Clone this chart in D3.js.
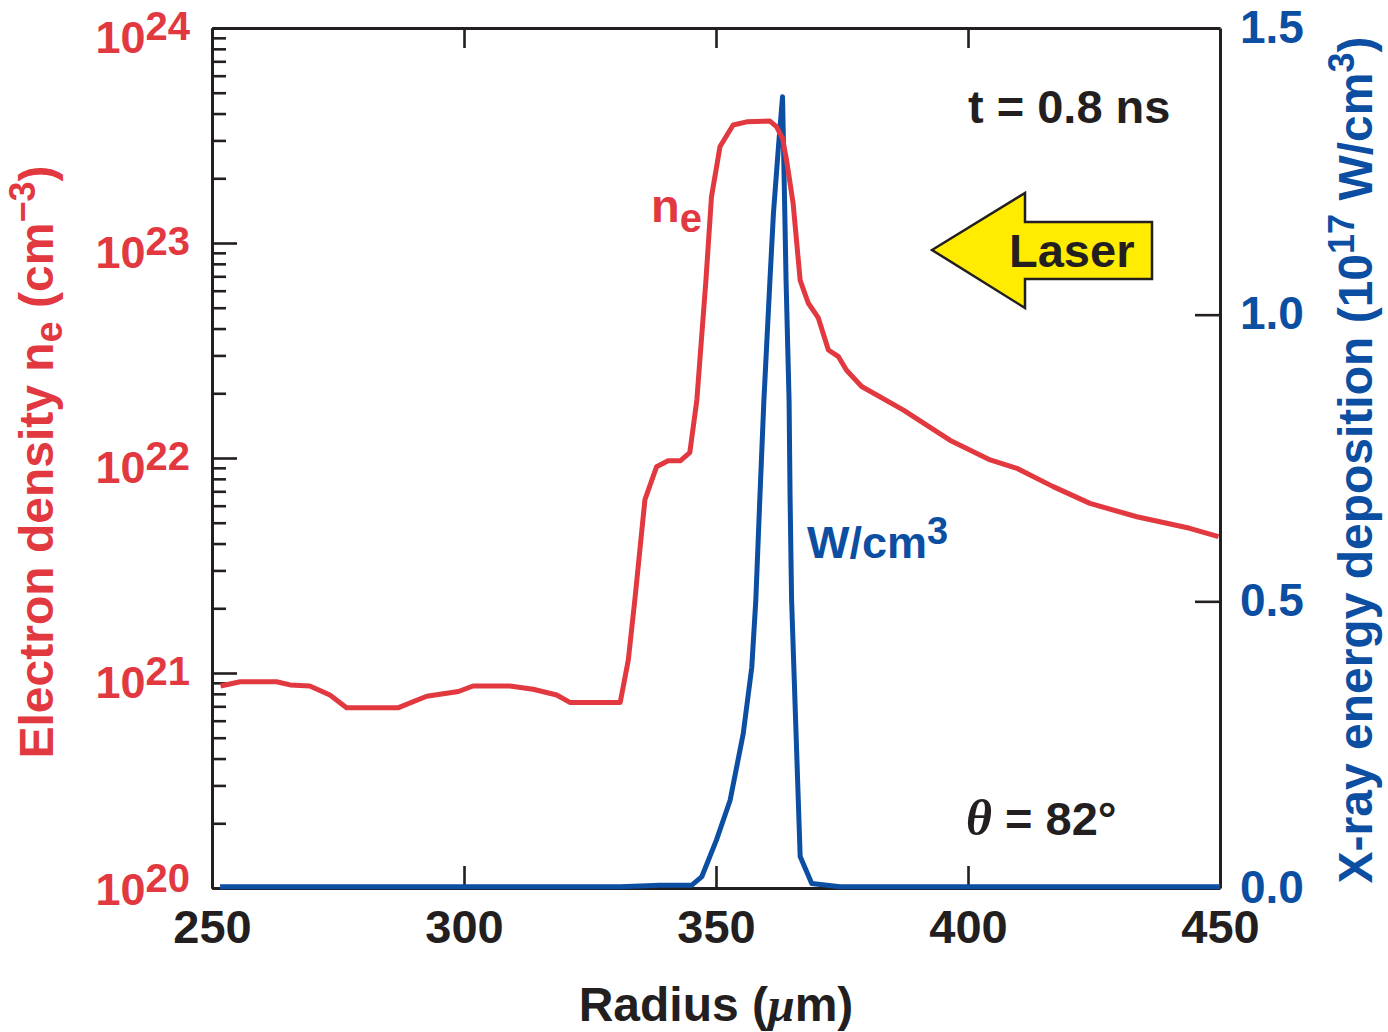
<!DOCTYPE html>
<html>
<head>
<meta charset="utf-8">
<script src="https://cdn.jsdelivr.net/npm/d3@7"></script>
<style>
  html, body { margin: 0; padding: 0; background: #fff; }
  text { font-family: "Liberation Sans", Arial, Helvetica, sans-serif; font-weight: bold; }
</style>
</head>
<body>
<svg id="chart"></svg>
<script>
// radius (um) and electron density (cm^-3)
const neRadius = [251.7, 255.6, 262.8, 265.5, 269.4, 273.4, 276.7, 287.0, 292.6, 298.9,
  301.8, 309.1, 313.7, 318.4, 321.0, 331.0, 332.6, 333.9, 335.9, 338.2,
  340.5, 342.9, 344.8, 346.2, 348.0, 349.1, 350.8, 353.4, 356.1, 360.7,
  362.0, 363.2, 364.0, 365.3, 366.7, 368.3, 370.3, 372.3, 374.3, 375.9,
  378.9, 387.2, 396.4, 404.4, 409.7, 416.9, 424.2, 433.5, 444.0, 449.7];
const neValues = [8.7e20, 9.1e20, 9.1e20, 8.8e20, 8.7e20, 7.9e20, 6.9e20, 6.9e20, 7.8e20, 8.2e20,
  8.7e20, 8.7e20, 8.4e20, 7.9e20, 7.3e20, 7.3e20, 1.15e21, 2.19e21, 6.4e21, 9.1e21,
  9.7e21, 9.7e21, 1.06e22, 1.86e22, 6.7e22, 1.64e23, 2.81e23, 3.54e23, 3.66e23, 3.69e23,
  3.48e23, 3.07e23, 2.43e23, 1.53e23, 6.7e22, 5.26e22, 4.48e22, 3.18e22, 2.96e22, 2.56e22,
  2.15e22, 1.67e22, 1.21e22, 9.8e21, 8.95e21, 7.36e21, 6.15e21, 5.33e21, 4.71e21, 4.31e21];

// radius (um) and x-ray energy deposition (1e17 W/cm^3)
const xrRadius = [251.6, 331.0, 338.9, 345.2, 347.2, 350.1, 352.8, 355.4, 357.1, 357.9,
  358.7, 359.5, 360.7, 361.4, 362.4, 363.2, 363.4, 363.9, 364.5, 364.7,
  365.0, 366.7, 369.0, 374.6, 450.0];
const xrValues = [0.002, 0.002, 0.005, 0.005, 0.02, 0.084, 0.153, 0.269, 0.385, 0.502,
  0.68, 0.85, 1.06, 1.177, 1.294, 1.38, 1.293, 1.06, 0.85, 0.68,
  0.502, 0.055, 0.008, 0.002, 0.002];

const xTicks = [250, 300, 350, 400, 450];
const xInnerTicks = [300, 350, 400];
const neDecades = [20, 21, 22, 23, 24];
const xrTicks = [0.0, 0.5, 1.0, 1.5];

const RED = '#e2383f';
const BLUE = '#0b4ea2';
const INK = '#231f20';

const width = 1388;
const height = 1032;
const margin = { left: 212, top: 28, right: 168, bottom: 144 };
const w = width - margin.left - margin.right;
const h = height - margin.top - margin.bottom;

const svg = d3.select('#chart')
  .attr('width', width)
  .attr('height', height);

const chart = svg.append('g')
  .attr('transform', `translate(${margin.left}, ${margin.top})`);

const xScale = d3.scaleLinear().domain([250, 450]).range([0, w]);
const yLeft = d3.scaleLog().domain([1e20, 1e24]).range([h, 0]);
const yRight = d3.scaleLinear().domain([0, 1.5]).range([h, 0]);

function styleAxis(g) {
  g.select('.domain').attr('stroke', INK).attr('stroke-width', 3);
  g.selectAll('.tick line').attr('stroke', INK).attr('stroke-width', 2.6);
}

// minor log ticks on left
const minors = [];
for (let d = 20; d < 24; d++) {
  for (let k = 2; k <= 9; k++) minors.push(k * Math.pow(10, d));
}
chart.append('g')
  .call(d3.axisLeft(yLeft).tickValues(minors).tickSize(-14).tickSizeOuter(0).tickFormat(''))
  .call(styleAxis);

// left major ticks with 10^n labels
const leftAxis = chart.append('g')
  .call(d3.axisLeft(yLeft)
    .tickValues(neDecades.map((e) => Math.pow(10, e)))
    .tickSize(-25).tickSizeOuter(0).tickPadding(22)
    .tickFormat(''))
  .call(styleAxis);
leftAxis.selectAll('.tick text')
  .data(neDecades)
  .attr('fill', RED)
  .attr('font-size', 45)
  .attr('dy', (e) => e === 20 ? 16 : 24)
  .each(function(e) {
    const t = d3.select(this);
    t.append('tspan').text('10');
    t.append('tspan').attr('font-size', 40).attr('dy', -13).text(e);
  });

// right axis
chart.append('g')
  .attr('transform', `translate(${w}, 0)`)
  .call(d3.axisRight(yRight)
    .tickValues(xrTicks)
    .tickSize(-25).tickSizeOuter(0).tickPadding(20)
    .tickFormat(d3.format('.1f')))
  .call(styleAxis)
  .call((g) => g.selectAll('.tick text')
    .attr('fill', BLUE).attr('font-size', 46).attr('dy', 14));

// bottom axis
chart.append('g')
  .attr('transform', `translate(0, ${h})`)
  .call(d3.axisBottom(xScale)
    .tickValues(xTicks)
    .tickSize(-22).tickSizeOuter(0).tickPadding(22)
    .tickFormat(d3.format('d')))
  .call(styleAxis)
  .call((g) => g.selectAll('.tick text').attr('fill', INK).attr('font-size', 47));
chart.selectAll('.tick line')
  .filter((d) => d === 250 || d === 450)
  .remove();

// top axis
chart.append('g')
  .call(d3.axisBottom(xScale)
    .tickValues(xInnerTicks)
    .tickSize(20).tickSizeOuter(0)
    .tickFormat(''))
  .call(styleAxis);

// series
const neLine = d3.line()
  .x((d) => xScale(d[0]))
  .y((d) => yLeft(d[1]));
const xrLine = d3.line()
  .x((d) => xScale(d[0]))
  .y((d) => yRight(d[1]));

chart.append('path')
  .datum(d3.zip(xrRadius, xrValues))
  .attr('d', xrLine)
  .attr('fill', 'none')
  .attr('stroke', BLUE)
  .attr('stroke-width', 5)
  .attr('stroke-linejoin', 'round');

chart.append('path')
  .datum(d3.zip(neRadius, neValues))
  .attr('d', neLine)
  .attr('fill', 'none')
  .attr('stroke', RED)
  .attr('stroke-width', 5)
  .attr('stroke-linejoin', 'round');

// axis titles
svg.append('text')
  .attr('transform', `translate(${margin.left + w / 2}, 1021)`)
  .attr('text-anchor', 'middle')
  .attr('font-size', 48)
  .attr('fill', INK)
  .call((t) => {
    t.append('tspan').text('Radius (');
    t.append('tspan').attr('font-family', '"Liberation Serif", "Times New Roman", serif')
      .attr('font-style', 'italic').text('\u03bc');
    t.append('tspan').text('m)');
  });

svg.append('text')
  .attr('transform', 'translate(53, 462) rotate(-90)')
  .attr('text-anchor', 'middle')
  .attr('font-size', 48)
  .attr('fill', RED)
  .call((t) => {
    t.append('tspan').text('Electron density n');
    t.append('tspan').attr('font-size', 38).attr('dy', 9).text('e');
    t.append('tspan').attr('dy', -9).text(' (cm');
    t.append('tspan').attr('font-size', 36).attr('dy', -18).text('\u22123');
    t.append('tspan').attr('dy', 18).text(')');
  });

svg.append('text')
  .attr('transform', 'translate(1372, 460) rotate(-90)')
  .attr('text-anchor', 'middle')
  .attr('font-size', 48)
  .attr('fill', BLUE)
  .call((t) => {
    t.append('tspan').text('X-ray energy deposition (10');
    t.append('tspan').attr('font-size', 36).attr('dy', -18).text('17');
    t.append('tspan').attr('dy', 18).text(' W/cm');
    t.append('tspan').attr('font-size', 36).attr('dy', -18).text('3');
    t.append('tspan').attr('dy', 18).text(')');
  });

// annotations
chart.append('text')
  .attr('x', 756).attr('y', 95)
  .attr('font-size', 47).attr('fill', INK)
  .text('t = 0.8 ns');

chart.append('text')
  .attr('x', 754).attr('y', 807)
  .attr('font-size', 47).attr('fill', INK)
  .call((t) => {
    t.append('tspan').attr('font-family', '"Liberation Serif", "Times New Roman", serif')
      .attr('font-style', 'italic').attr('font-size', 50).text('\u03b8');
    t.append('tspan').text(' = 82\u00b0');
  });

chart.append('text')
  .attr('x', 439).attr('y', 194)
  .attr('font-size', 47).attr('fill', RED)
  .call((t) => {
    t.append('tspan').text('n');
    t.append('tspan').attr('font-size', 40).attr('dy', 10).text('e');
  });

chart.append('text')
  .attr('x', 595).attr('y', 530)
  .attr('font-size', 45).attr('fill', BLUE)
  .call((t) => {
    t.append('tspan').text('W/cm');
    t.append('tspan').attr('font-size', 38).attr('dy', -14).text('3');
  });

// laser arrow
const arrow = chart.append('g').attr('transform', 'translate(720, 165)');
arrow.append('path')
  .attr('d', 'M0,57 L93,0 L93,29 L220,29 L220,86 L93,86 L93,115 Z')
  .attr('fill', '#ffec00')
  .attr('stroke', INK)
  .attr('stroke-width', 2.5)
  .attr('stroke-linejoin', 'miter');
arrow.append('text')
  .attr('x', 77).attr('y', 74)
  .attr('font-size', 47).attr('fill', INK)
  .text('Laser');
</script>
</body>
</html>
